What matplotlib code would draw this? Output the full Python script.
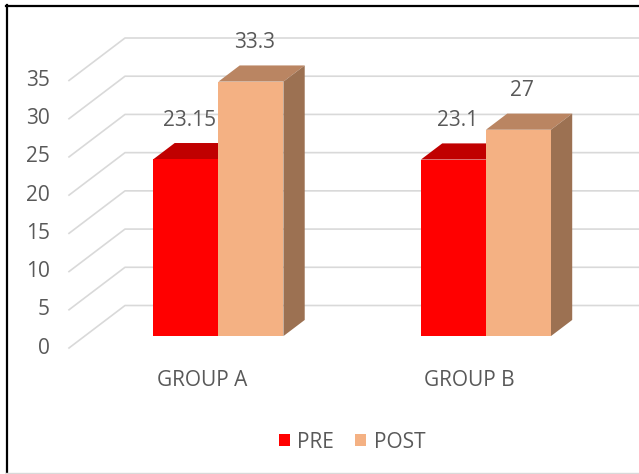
import matplotlib
matplotlib.use('Agg')
import matplotlib.pyplot as plt
from matplotlib.patches import Polygon, Patch
from matplotlib.lines import Line2D
from matplotlib.transforms import IdentityTransform

# ---------------- data ----------------
categories = ['GROUP A', 'GROUP B']
series_names = ['PRE', 'POST']
pre_values = [23.15, 23.1]
post_values = [33.3, 27]
pre_labels = ['23.15', '23.1']
post_labels = ['33.3', '27']
y_ticks = [0, 5, 10, 15, 20, 25, 30, 35]

# ---------------- style ----------------
W, H, DPI = 639, 474, 100
plt.rcParams['font.family'] = ['Open Sans', 'DejaVu Sans']
TEXT = '#595959'
GRID = '#D9D9D9'
FS = 15
pre_cols = dict(front='#FF0000', top='#C00000', side='#A00000')
post_cols = dict(front='#F4B183', top='#BA8562', side='#9C7152')

fig = plt.figure(figsize=(W / DPI, H / DPI), dpi=DPI)
fig.patch.set_facecolor('white')

left_px, bottom_px, plot_h = 69, 126, 267.5
cat_px = 267.5
ax = fig.add_axes([left_px / W, bottom_px / H, (W - left_px) / W, plot_h / H])
ax.set_xlim(-0.5, -0.5 + (W - left_px) / cat_px)
ax.set_ylim(0, 35)
ax.axis('off')

DEPTH = (56.0, 42.5)   # pixel offset of the back wall
D0, D1 = 0.28, 0.66    # bar depth span
BW = 0.243             # bar width (category units)
ID = IdentityTransform()


def proj(x, y, d):
    px, py = ax.transData.transform((x, y))
    return (px + d * DEPTH[0], py + d * DEPTH[1])


# gridlines (side wall + back wall)
x_lo, x_hi = ax.get_xlim()
for v in y_ticks:
    p0 = proj(x_lo, v, 0)
    p1 = proj(x_lo, v, 1)
    p2 = proj(x_hi + 1, v, 1)
    ax.add_line(Line2D([p0[0], p1[0], p2[0]], [p0[1], p1[1], p2[1]],
                       transform=ID, color=GRID, lw=1.2, clip_on=False, zorder=1))
    ax.text(p0[0] - 19, p0[1], str(v), transform=ID, ha='right', va='center',
            fontsize=FS, color=TEXT)


def bar3d(x0, x1, v, cols, z):
    a, b = proj(x0, 0, D0), proj(x1, 0, D0)
    c, d = proj(x1, v, D0), proj(x0, v, D0)
    cb, db = proj(x1, v, D1), proj(x0, v, D1)
    bb = proj(x1, 0, D1)
    ax.add_patch(Polygon([d, c, cb, db], closed=True, transform=ID, fc=cols['top'],
                         ec='none', clip_on=False, zorder=z))
    ax.add_patch(Polygon([b, bb, cb, c], closed=True, transform=ID, fc=cols['side'],
                         ec='none', clip_on=False, zorder=z))
    ax.add_patch(Polygon([a, b, c, d], closed=True, transform=ID, fc=cols['front'],
                         ec='none', clip_on=False, zorder=z + 0.5))


for i, cat in enumerate(categories):
    bar3d(i - BW, i, pre_values[i], pre_cols, 2)
    bar3d(i, i + BW, post_values[i], post_cols, 3)
    # value labels
    for xc, v, lab in [(i - BW / 2, pre_values[i], pre_labels[i]),
                       (i + BW / 2, post_values[i], post_labels[i])]:
        p = proj(xc, v, D0)
        ax.text(p[0] + 4, p[1] + 39, lab, transform=ID, ha='center', va='center',
                fontsize=FS, color=TEXT, zorder=5)
    # category label
    p = proj(i, 0, 0)
    ax.text(p[0] - 1, p[1] - 32, cat, transform=ID, ha='center', va='center',
            fontsize=FS, color=TEXT)

# legend
handles = [Patch(facecolor=pre_cols['front']), Patch(facecolor=post_cols['front'])]
fig.legend(handles, series_names, loc='center', bbox_to_anchor=(352 / W, 32 / H),
           ncol=2, frameon=False, fontsize=FS, handlelength=0.55, handleheight=0.55,
           handletextpad=0.35, columnspacing=1.0, labelcolor=TEXT)

# outer border (left/top black, bottom light)
fig.add_artist(Line2D([6.5 / W, 6.5 / W], [0, 1 - 5 / H], color='black', lw=1.6))
fig.add_artist(Line2D([6 / W, 1], [1 - 5.5 / H, 1 - 5.5 / H], color='black', lw=1.6))
fig.add_artist(Line2D([6 / W, 1], [1.2 / H, 1.2 / H], color='#D9D9D9', lw=1.0))

fig.savefig('out.png', dpi=DPI)
